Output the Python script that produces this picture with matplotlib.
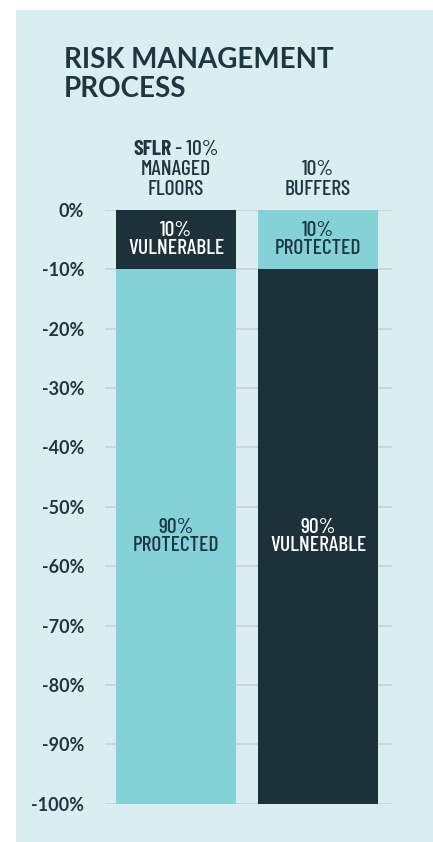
import matplotlib
matplotlib.use("Agg")
import matplotlib.pyplot as plt
from matplotlib.patches import Rectangle

# chart data
categories = ["SFLR", "BUFFERS"]
header_bold = ["SFLR", ""]
header_lines = [["- 10%", "MANAGED", "FLOORS"], ["10%", "BUFFERS"]]
top_values = [10, 10]
bottom_values = [90, 90]
top_labels = ["VULNERABLE", "PROTECTED"]
bottom_labels = ["PROTECTED", "VULNERABLE"]
yticks = [0, -10, -20, -30, -40, -50, -60, -70, -80, -90, -100]

DARK = "#1c3139"
LIGHT = "#84d2d8"
BG = "#daeef2"
GRID = "#c9cfd2"
TEXT = "#1e3640"
NARROW = ["Barlow Condensed", "DejaVu Sans"]
SANS = ["Lato", "DejaVu Sans"]
NSIZE = 15.5

fig = plt.figure(figsize=(4.33, 8.42), dpi=100)
fig.patch.set_facecolor("white")
fig.add_artist(Rectangle((16 / 433, 0), 1 - 16 / 433, 1 - 10 / 842,
                         transform=fig.transFigure, facecolor=BG,
                         edgecolor="none", zorder=0))

ax = fig.add_axes([105 / 433, 1 - 803.7 / 842, 287 / 433, 593.7 / 842])
ax.set_facecolor("none")

x = list(range(len(categories)))
width = 0.845
top_colors = [DARK, LIGHT]
bottom_colors = [LIGHT, DARK]
top_bottoms = [-v for v in top_values]
ax.bar(x, top_values, bottom=top_bottoms, width=width, color=top_colors, zorder=3)
ax.bar(x, bottom_values, bottom=[b - v for b, v in zip(top_bottoms, bottom_values)],
       width=width, color=bottom_colors, zorder=3)

# labels inside the bars
for i in x:
    tc = "white" if top_colors[i] == DARK else TEXT
    bc = "white" if bottom_colors[i] == DARK else TEXT
    ax.text(i, -top_values[i] / 2, f"{top_values[i]}%\n{top_labels[i]}",
            ha="center", va="center", color=tc, fontsize=NSIZE, fontweight=500,
            family=NARROW, linespacing=0.95, zorder=4)
    ax.text(i, -top_values[i] - bottom_values[i] / 2,
            f"{bottom_values[i]}%\n{bottom_labels[i]}",
            ha="center", va="center", color=bc, fontsize=NSIZE, fontweight=500,
            family=NARROW, linespacing=0.95, zorder=4)

ax.set_xlim(-0.5, 1.52)
ax.set_ylim(-100, 0)
ax.set_yticks(yticks)
ax.set_yticklabels([f"{t}%" for t in yticks], family=SANS, fontsize=13,
                   fontweight="bold", color=TEXT)
ax.tick_params(axis="y", length=0, pad=15)
ax.set_xticks([])
ax.grid(axis="y", color=GRID, linewidth=1.2, zorder=1)
for s in ax.spines.values():
    s.set_visible(False)

# column headers above the bars
fig.canvas.draw()
renderer = fig.canvas.get_renderer()
centers_px = [176, 318]
line_h = 20
for i, lines in enumerate(header_lines):
    cx = centers_px[i] / 433
    n = len(lines)
    base_y = 195 - (n - 1) * line_h
    for k, line in enumerate(lines):
        y = 1 - (base_y + k * line_h) / 842
        if k == 0 and header_bold[i]:
            tb = fig.text(0, y, header_bold[i], fontsize=NSIZE, family=NARROW,
                          fontweight="bold", color=TEXT, va="baseline")
            tr = fig.text(0, y, " " + line, fontsize=NSIZE, family=NARROW,
                          fontweight=500, color=TEXT, va="baseline")
            wb = tb.get_window_extent(renderer).width / 433
            wr = tr.get_window_extent(renderer).width / 433
            start = cx - (wb + wr) / 2
            tb.set_x(start)
            tr.set_x(start + wb)
        else:
            fig.text(cx, y, line, fontsize=NSIZE, family=NARROW, fontweight=500,
                     color=TEXT, ha="center", va="baseline")

# title
fig.text(64 / 433, 1 - 68 / 842, "RISK MANAGEMENT", family=SANS, fontsize=20,
         fontweight="bold", color=TEXT, va="baseline")
fig.text(64 / 433, 1 - 97 / 842, "PROCESS", family=SANS, fontsize=20,
         fontweight="bold", color=TEXT, va="baseline")

fig.savefig("out.png", dpi=100, facecolor=fig.get_facecolor())
